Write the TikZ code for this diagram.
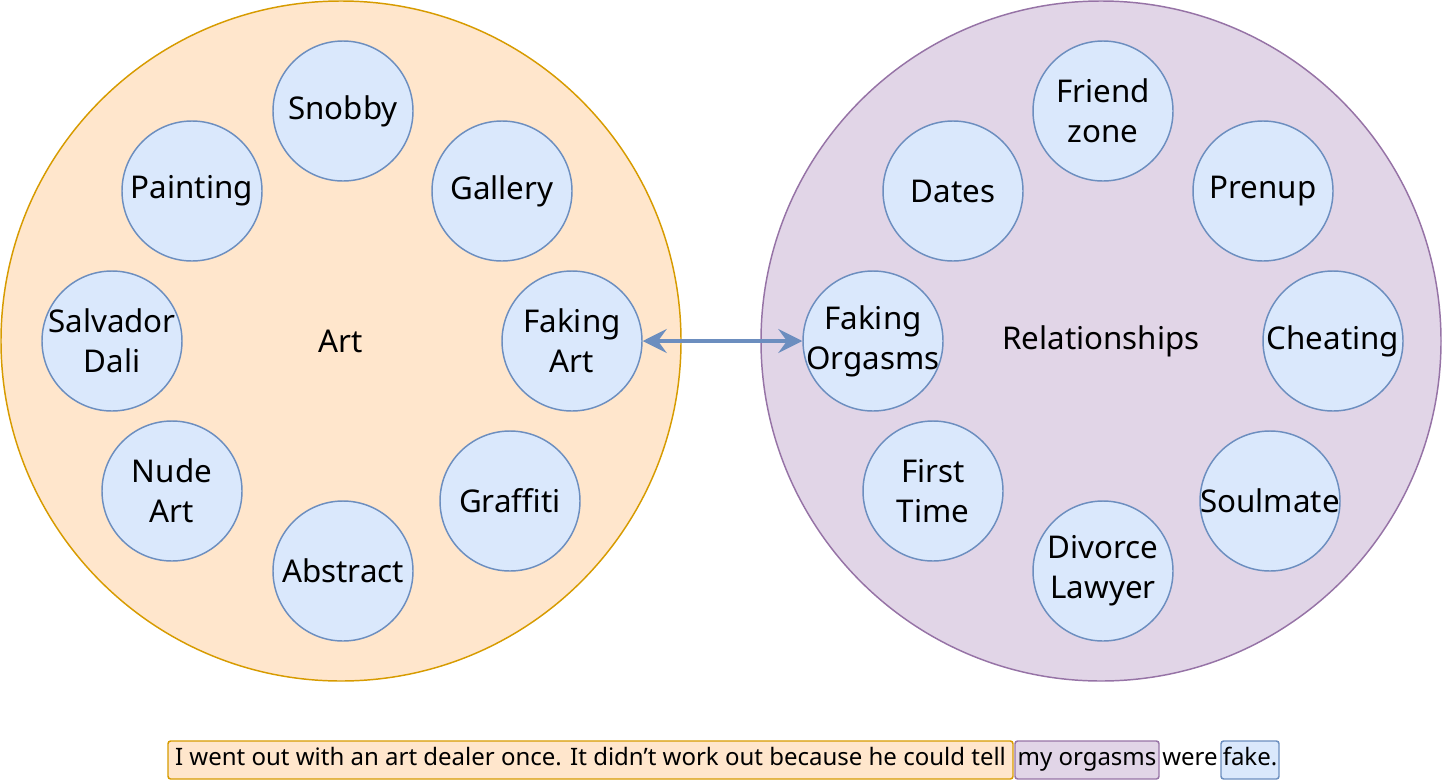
\documentclass[tikz,border=0pt]{standalone}
\usepackage{fontspec}
\setmainfont{Noto Sans}
\usepackage{tikz}
\usetikzlibrary{arrows.meta}
\usetikzlibrary{shapes}
\definecolor{artfill}{HTML}{FFE6CC}
\definecolor{artline}{HTML}{D79B00}
\definecolor{relfill}{HTML}{E1D5E7}
\definecolor{relline}{HTML}{9673A6}
\definecolor{topicfill}{HTML}{DAE8FC}
\definecolor{topicline}{HTML}{6C8EBF}
\tikzstyle{world} = [circle, draw, line width=1.1pt, minimum size=510pt, inner sep=0pt, font=\fontsize{23.5}{30}\selectfont]
\tikzstyle{topic} = [circle, draw=topicline, fill=topicfill, line width=1.1pt, minimum size=105pt, inner sep=-12pt, align=center, font=\fontsize{23.5}{30}\selectfont]
\tikzstyle{chunk} = [rectangle, draw, rounded corners=2pt, line width=1.1pt, minimum height=28.5pt, inner sep=0pt, text height=1.0em, text depth=0.15em, font=\fontsize{18}{20}\selectfont]
\tikzstyle{tip} = [{Stealth[length=18pt, width=18pt, inset=6.5pt]}-{Stealth[length=18pt, width=18pt, inset=6.5pt]}]

\begin{document}
\begin{tikzpicture}
    [x=0.75pt, y=-0.75pt]
    \useasboundingbox (0,0) rectangle (1442,782);
    % the two worlds
    \node[world, draw=artline, fill=artfill] (art) at (341,341) {Art};
    \node[world, draw=relline, fill=relfill] (rel) at (1101,341) {Relationships};
    % art topics
    \node[topic] (snobby) at (343,111) {Snobby};
    \node[topic] (painting) at (192,191) {Painting};
    \node[topic] (gallery) at (502,191) {Gallery};
    \node[topic] (dali) at (112,341) {Salvador\\Dali};
    \node[topic] (fakeart) at (572,341) {Faking\\Art};
    \node[topic] (nude) at (172,491) {Nude\\Art};
    \node[topic] (graffiti) at (510,501) {Graffiti};
    \node[topic] (abstract) at (343,571) {Abstract};
    % relationship topics
    \node[topic] (friend) at (1103,111) {Friend\\zone};
    \node[topic] (dates) at (953,191) {Dates};
    \node[topic] (prenup) at (1263,191) {Prenup};
    \node[topic] (fakeorg) at (873,341) {Faking\\Orgasms};
    \node[topic] (cheating) at (1333,341) {Cheating};
    \node[topic] (first) at (933,491) {First\\Time};
    \node[topic] (soulmate) at (1270,501) {Soulmate};
    \node[topic] (divorce) at (1103,571) {Divorce\\Lawyer};
    % the pun
    \draw[topicline, line width=2.6pt, tip] (fakeart) -- (fakeorg);
    % the joke
    \node[chunk, draw=artline, fill=artfill, minimum width=633.75pt] (joke1) at (590.5,760)
      {I went out with an art dealer once. It didn't work out because he could tell};
    \node[chunk, draw=relline, fill=relfill, minimum width=108pt] (joke2) at (1087,760) {my orgasms};
    \node[chunk, draw=none, fill=none] (joke3) at (1190,760) {were};
    \node[chunk, draw=topicline, fill=topicfill, minimum width=43.5pt] (joke4) at (1250,760) {fake.};
\end{tikzpicture}
\end{document}
